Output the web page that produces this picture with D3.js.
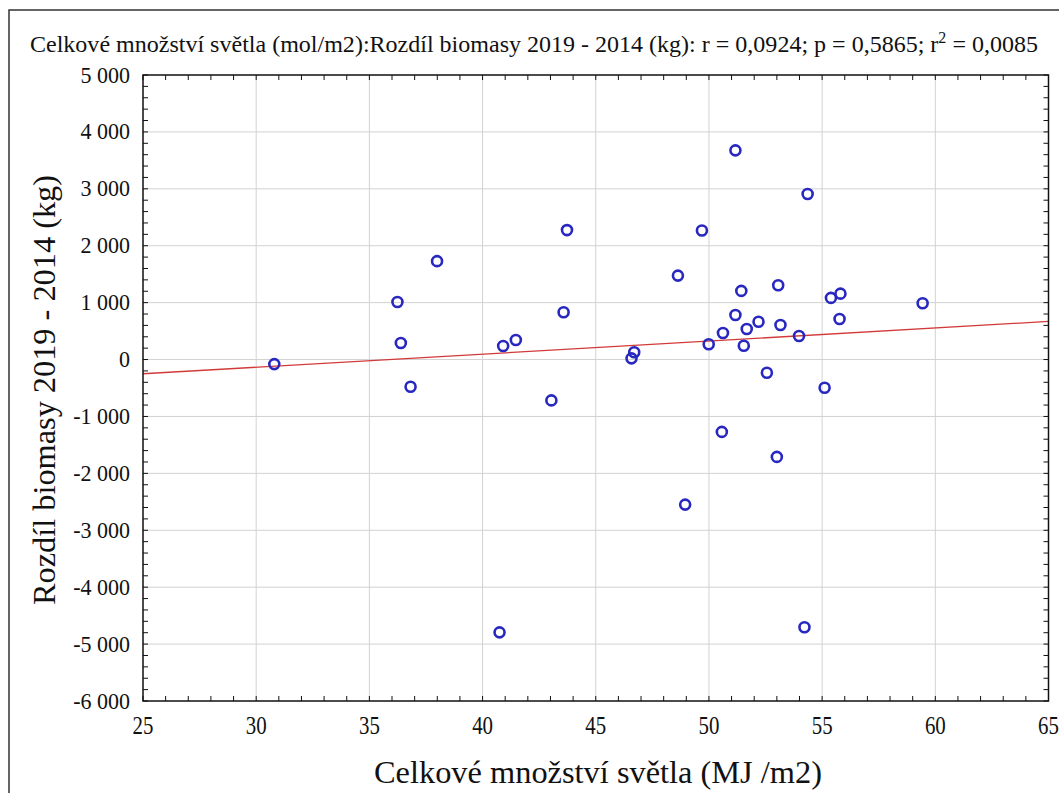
<!DOCTYPE html>
<html>
<head>
<meta charset="utf-8">
<script src="https://cdn.jsdelivr.net/npm/d3@7"></script>
</head>
<body style="margin:0;background:#fff">
<svg id="chart" width="1059" height="793" style="display:block"></svg>
<script>
// ---- data ----
const xLight = [30.80, 36.24, 36.39, 36.82, 37.99, 40.75, 40.91, 41.47, 43.04, 43.58,
                43.73, 46.58, 46.70, 48.63, 48.95, 49.69, 49.99, 50.62, 50.57, 51.17,
                51.17, 51.43, 51.54, 51.67, 52.19, 52.56, 53.06, 53.00, 53.16, 53.98,
                54.22, 54.36, 55.11, 55.39, 55.81, 55.77, 59.44];
const yBiomass = [-80, 1010, 290, -479, 1729, -4794, 238, 343, -718, 831,
                  2275, 21, 127, 1475, -2549, 2268, 268, 467, -1271, 3676,
                  783, 1206, 243, 537, 665, -232, 1306, -1711, 607, 414,
                  -4704, 2908, -496, 1083, 1158, 713, 989];
const xTicks = [25, 30, 35, 40, 45, 50, 55, 60, 65];
const yTicks = [5000, 4000, 3000, 2000, 1000, 0, -1000, -2000, -3000, -4000, -5000, -6000];
const xDomain = [25, 65];
const yDomain = [-6000, 5000];
const titleMain = "Celkové množství světla (mol/m2):Rozdíl biomasy 2019 - 2014 (kg):   r = 0,0924; p = 0,5865; r";
const titleSup = "2";
const titleEnd = " = 0,0085";
const xLabel = "Celkové množství světla (MJ /m2)";
const yLabel = "Rozdíl biomasy 2019 - 2014 (kg)";

// ---- layout ----
const FONT = "Liberation Serif";
const svg = d3.select("#chart");
const L = 143, R = 1048.5, T = 75, B = 701;
const x = d3.scaleLinear().domain(xDomain).range([L, R]);
const y = d3.scaleLinear().domain(yDomain).range([B, T]);

function serif(sel) {
  return sel.attr("font-family", FONT).attr("fill", "#111");
}

// outer frame
svg.append("rect").attr("x", 9).attr("y", 10).attr("width", 1200).attr("height", 900)
  .attr("fill", "none").attr("stroke", "#333").attr("stroke-width", 1.5);

// grid
const grid = svg.append("g");
grid.selectAll(".gx").data(xTicks.slice(1, -1)).join("line")
  .attr("x1", d => x(d)).attr("x2", d => x(d)).attr("y1", T).attr("y2", B)
  .attr("stroke", "#d2d2d2").attr("stroke-width", 1);
grid.selectAll(".gy").data(yTicks.slice(1, -1)).join("line")
  .attr("y1", d => y(d)).attr("y2", d => y(d)).attr("x1", L).attr("x2", R)
  .attr("stroke", "#d2d2d2").attr("stroke-width", 1);

// minor ticks on all four sides (pointing inward)
const xMinor = d3.range(xDomain[0], xDomain[1] + 0.001, 1);
const yMinor = d3.range(yDomain[0], yDomain[1] + 1, 200);
const tk = 5;
const axisG = svg.append("g").attr("stroke", "#111").attr("stroke-width", 1);
axisG.selectAll(".tb").data(xMinor).join("line")
  .attr("x1", d => x(d)).attr("x2", d => x(d)).attr("y1", B).attr("y2", B - tk);
axisG.selectAll(".tt").data(xMinor).join("line")
  .attr("x1", d => x(d)).attr("x2", d => x(d)).attr("y1", T).attr("y2", T + tk);
axisG.selectAll(".tl").data(yMinor).join("line")
  .attr("y1", d => y(d)).attr("y2", d => y(d)).attr("x1", L).attr("x2", L + tk);
axisG.selectAll(".tr").data(yMinor).join("line")
  .attr("y1", d => y(d)).attr("y2", d => y(d)).attr("x1", R).attr("x2", R - tk);

// regression line (least squares from data)
const n = xLight.length;
const mx = d3.mean(xLight), my = d3.mean(yBiomass);
let sxy = 0, sxx = 0;
for (let i = 0; i < n; i++) { sxy += (xLight[i] - mx) * (yBiomass[i] - my); sxx += (xLight[i] - mx) ** 2; }
const slope = sxy / sxx, intercept = my - slope * mx;
svg.append("line")
  .attr("x1", x(xDomain[0])).attr("y1", y(intercept + slope * xDomain[0]))
  .attr("x2", x(xDomain[1])).attr("y2", y(intercept + slope * xDomain[1]))
  .attr("stroke", "#d23a3a").attr("stroke-width", 1.3);

// points
svg.append("g").selectAll("circle").data(xLight.map((v, i) => [v, yBiomass[i]])).join("circle")
  .attr("cx", d => x(d[0])).attr("cy", d => y(d[1])).attr("r", 5)
  .attr("fill", "none").attr("stroke", "#2828c0").attr("stroke-width", 2.6);

// plot frame
svg.append("rect").attr("x", L).attr("y", T).attr("width", R - L).attr("height", B - T)
  .attr("fill", "none").attr("stroke", "#111").attr("stroke-width", 1.5);

// tick labels
serif(svg.append("g").selectAll("text").data(xTicks).join("text"))
  .attr("transform", d => `translate(${x(d)},734) scale(0.95,1.12)`)
  .attr("text-anchor", "middle")
  .attr("font-size", 22).text(d => d);
serif(svg.append("g").selectAll("text").data(yTicks).join("text"))
  .attr("transform", d => `translate(130,${y(d) + 7.5}) scale(1,1.05)`)
  .attr("text-anchor", "end")
  .attr("font-size", 22).text(d => d3.format(",")(d).replace(/,/g, " ").replace("−", "-"));

// title
const tt = serif(svg.append("text"))
  .attr("transform", "translate(30,52) scale(1,1.12)")
  .attr("font-size", 21).attr("textLength", 1008).attr("lengthAdjust", "spacingAndGlyphs");
tt.append("tspan").text(titleMain);
tt.append("tspan").attr("dy", -8).attr("font-size", 14).text(titleSup);
tt.append("tspan").attr("dy", 8).text(titleEnd);

// axis titles
serif(svg.append("text"))
  .attr("transform", `translate(374,783) scale(1,1.12)`)
  .attr("font-size", 29).attr("textLength", 448).attr("lengthAdjust", "spacingAndGlyphs")
  .text(xLabel);
serif(svg.append("text"))
  .attr("transform", "translate(55,605) rotate(-90) scale(1,1.12)")
  .attr("font-size", 29).attr("textLength", 430).attr("lengthAdjust", "spacingAndGlyphs")
  .text(yLabel);
</script>
</body>
</html>
